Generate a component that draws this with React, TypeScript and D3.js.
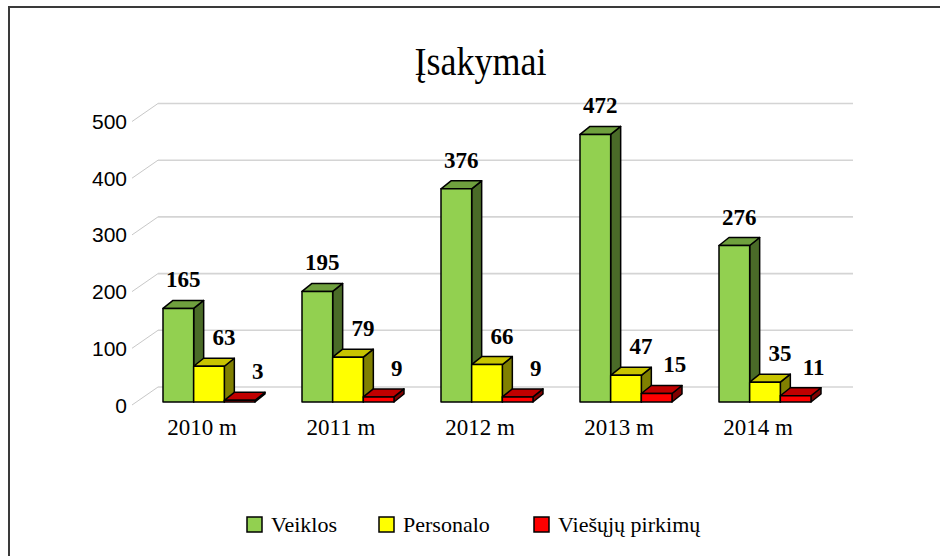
import React from "react";
import * as d3 from "d3";

const categories = ["2010 m", "2011 m", "2012 m", "2013 m", "2014 m"];
const seriesNames = ["Veiklos", "Personalo", "Viešųjų pirkimų"];
const veiklos = [165, 195, 376, 472, 276];
const personalo = [63, 79, 66, 47, 35];
const viesuju = [3, 9, 9, 15, 11];
const yTicks = [0, 100, 200, 300, 400, 500];
const title = "Įsakymai";

const seriesValues = [veiklos, personalo, viesuju];
const colors = [
  { front: "#92d050", top: "#6fa03e", side: "#4a6b28" },
  { front: "#ffff00", top: "#c8c400", side: "#808000" },
  { front: "#ff0000", top: "#c00000", side: "#800000" },
];
const labelDx = [5, 15, 18];

export default function App() {
  const W = 940, H = 556;
  const serif = "'Liberation Serif', 'Times New Roman', serif";
  const sans = "'Liberation Sans', Arial, sans-serif";

  const h = d3.scaleLinear().domain([0, 500]).range([0, 283.5]);
  const backBase = 387;
  const frontBase = 402;
  const depthX = 10, depthY = -8;
  const wallDX = 26, wallDY = -18;
  const backX0 = 158, backX1 = 853;

  const xCat = d3.scaleBand().domain(categories).range([139.5, 834.5]).padding(0);
  const groupW = 92;
  const xSer = d3.scaleBand().domain(seriesNames).range([0, groupW]).padding(0);

  const bars: any[] = [];
  const labels: any[] = [];
  categories.forEach((c, ci) => {
    const gx = (xCat(c) as number) + (xCat.bandwidth() - groupW) / 2;
    seriesNames.forEach((s, si) => {
      const v = seriesValues[si][ci];
      const x0 = gx + (xSer(s) as number);
      const x1 = x0 + xSer.bandwidth();
      const yT = frontBase - h(v);
      const yB = frontBase;
      const col = colors[si];
      bars.push(
        <g key={`b${ci}-${si}`} stroke="#000" strokeWidth={1.5} strokeLinejoin="round">
          <path d={`M${x1},${yT}L${x1 + depthX},${yT + depthY}L${x1 + depthX},${yB + depthY}L${x1},${yB}Z`} fill={col.side} />
          <path d={`M${x0},${yT}L${x0 + depthX},${yT + depthY}L${x1 + depthX},${yT + depthY}L${x1},${yT}Z`} fill={col.top} />
          <rect x={x0} y={yT} width={x1 - x0} height={yB - yT} fill={col.front} />
        </g>
      );
      labels.push(
        <text key={`l${ci}-${si}`} x={(x0 + x1) / 2 + labelDx[si]} y={yT - 21} textAnchor="middle"
          fontFamily={serif} fontWeight="bold" fontSize={23} fill="#000">{v}</text>
      );
    });
  });

  const legendX = [247, 379, 534];

  return (
    <svg width={W} height={H} style={{ position: "absolute", left: 0, top: 0, background: "#fff" }}>
      <rect x={0} y={0} width={W} height={H} fill="#fff" />
      <path d={`M9,${H}V7H${W}`} fill="none" stroke="#3a3a3a" strokeWidth={2} />
      <text transform="translate(480.5,75) scale(0.9,1)" textAnchor="middle" fontFamily={serif} fontSize={40} fill="#000">{title}</text>
      {yTicks.map((t) => {
        const yb = backBase - h(t);
        return (
          <g key={`t${t}`}>
            <line x1={backX0} x2={backX1} y1={yb} y2={yb} stroke="#d4d4d4" strokeWidth={1.6} />
            <line x1={backX0 - wallDX} y1={yb - wallDY} x2={backX0} y2={yb} stroke="#c8c8c8" strokeWidth={1} />
            <text x={127} y={yb - wallDY + 7.5} textAnchor="end" fontFamily={sans} fontSize={21} fill="#000">{t}</text>
          </g>
        );
      })}
      {bars}
      {labels}
      {categories.map((c) => (
        <text key={c} x={(xCat(c) as number) + xCat.bandwidth() / 2 - 7} y={435} textAnchor="middle"
          fontFamily={serif} fontSize={23} fill="#000">{c}</text>
      ))}
      {seriesNames.map((s, i) => (
        <g key={s}>
          <rect x={legendX[i]} y={517} width={15} height={15} fill={colors[i].front} stroke="#000" strokeWidth={1.5} />
          <text x={legendX[i] + 24} y={532} fontFamily={serif} fontSize={22} fill="#000">{s}</text>
        </g>
      ))}
    </svg>
  );
}
